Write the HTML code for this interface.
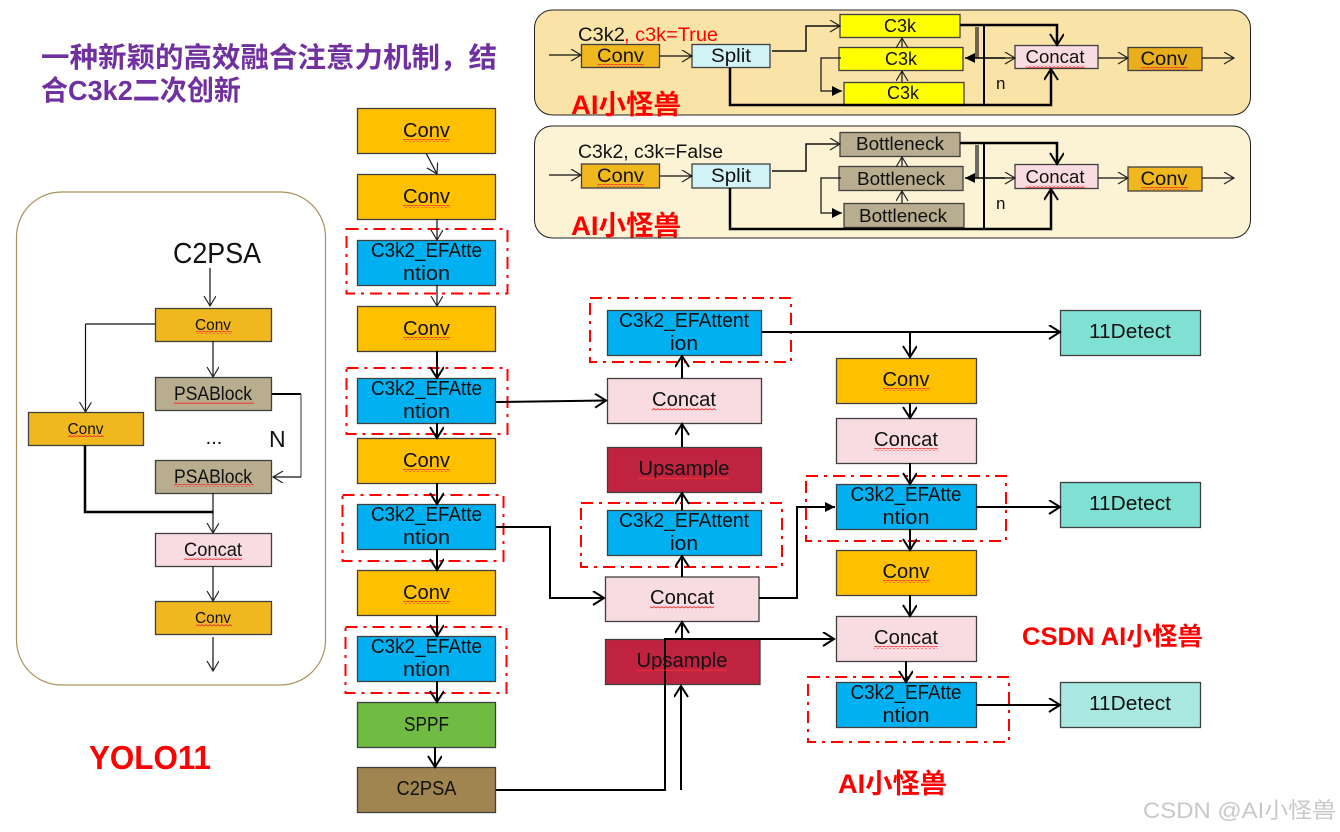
<!DOCTYPE html>
<html><head><meta charset="utf-8"><style>
html,body{margin:0;padding:0;background:#fff}
svg{display:block}
text{font-family:"Liberation Sans","Noto Sans CJK SC",sans-serif;fill:#111}
.m{text-anchor:middle;font-size:20px;transform:translateY(-1px)}
.s{text-anchor:middle;font-size:15.5px}
.p{text-anchor:middle;font-size:18px}
.t{text-anchor:middle;font-size:19px}
.r{fill:#f00;font-weight:bold}
.b{stroke:#404040;stroke-width:1.3}
.l{fill:none;stroke:#111;stroke-width:1.2}
.h{fill:none;stroke:#000;stroke-width:2}
.k{fill:none;stroke:#000;stroke-width:2.5}
.d{fill:none;stroke:#f00;stroke-width:2;stroke-dasharray:12 6 3 6}
</style></head><body>
<svg width="1340" height="832" viewBox="0 0 1340 832" xmlns="http://www.w3.org/2000/svg">
<defs>
<marker id="o" markerUnits="userSpaceOnUse" markerWidth="14" markerHeight="14" refX="11" refY="6" orient="auto"><path d="M1 0L11 6L1 12" fill="none" stroke="#222" stroke-width="1.2"/></marker>
<marker id="a" markerUnits="userSpaceOnUse" markerWidth="16" markerHeight="16" refX="12" refY="7" orient="auto"><path d="M1 0L12 7L1 14" fill="none" stroke="#000" stroke-width="2"/></marker>
<marker id="f" markerUnits="userSpaceOnUse" markerWidth="12" markerHeight="12" refX="10" refY="5" orient="auto"><path d="M0 0L10 5L0 10Z" fill="#000"/></marker>
<pattern id="w" width="4" height="3" patternUnits="userSpaceOnUse"><path d="M0 2L2 .7L4 2" fill="none" stroke="#e33" stroke-width=".9"/></pattern>
</defs>

<!-- title -->
<text x="41" y="67" font-size="28" font-weight="bold" style="fill:#7030A0" textLength="456" lengthAdjust="spacingAndGlyphs">一种新颖的高效融合注意力机制，结</text>
<text x="41" y="100" font-size="28" font-weight="bold" style="fill:#7030A0" textLength="200" lengthAdjust="spacingAndGlyphs">合C3k2二次创新</text>

<!-- top panels -->
<rect x="534.500" y="10" width="716" height="105" rx="18" fill="#F9E3A6" stroke="#222" stroke-width="1"/>
<rect x="534.500" y="126" width="716" height="112" rx="18" fill="#FCF2D4" stroke="#222" stroke-width="1"/>

<!-- panel 1 -->
<g class="b">
<rect x="581.500" y="44.500" width="78" height="23" fill="#F0B71E"/>
<rect x="692" y="44.500" width="78" height="23" fill="#D2F3F5"/>
<rect x="840" y="14.500" width="120" height="23" fill="#FFFF00"/>
<rect x="839" y="47.500" width="124" height="23" fill="#FFFF00"/>
<rect x="844" y="82.500" width="120" height="23" fill="#FFFF00"/>
<rect x="1015" y="45.500" width="83" height="23" fill="#F8DCE2"/>
<rect x="1128" y="47.500" width="74" height="23" fill="#E8AE1C"/>
</g>
<path class="l" marker-end="url(#o)" d="M549 55H581"/>
<path class="l" marker-end="url(#o)" d="M660 56H692"/>
<path class="l" style="stroke-width:1.5" marker-end="url(#o)" d="M772 51H806V26H840"/>
<path class="l" marker-end="url(#o)" d="M902 47V38"/>
<path class="l" marker-end="url(#o)" d="M902 82V71"/>
<path class="l" marker-end="url(#f)" d="M841 58H821V91H842"/>
<path class="k" marker-end="url(#a)" d="M960 25H1057V45"/>
<path class="h" d="M984 25V105"/>
<path class="l" d="M978 27V58"/>
<path class="l" d="M976 27V58"/>
<path class="h" marker-end="url(#f)" style="stroke-width:1.5" d="M1005 58H965"/>
<path class="l" marker-end="url(#o)" d="M975 58H1015"/>
<path class="k" marker-end="url(#a)" d="M730 68V105H1051V69"/>
<path class="l" marker-end="url(#o)" d="M1098 58H1128"/>
<path class="l" marker-end="url(#o)" d="M1202 58H1234"/>
<text x="578" y="41" font-size="19" textLength="47" lengthAdjust="spacingAndGlyphs">C3k2</text>
<text x="624" y="41" font-size="19" style="fill:#f00" textLength="94" lengthAdjust="spacingAndGlyphs">, c3k=True</text>
<text class="t" x="620.500" y="62" textLength="47" lengthAdjust="spacingAndGlyphs">Conv</text>
<text class="t" x="731" y="62" textLength="40" lengthAdjust="spacingAndGlyphs">Split</text>
<text class="p" x="900" y="32" textLength="32" lengthAdjust="spacingAndGlyphs">C3k</text>
<text class="p" x="901" y="65" textLength="32" lengthAdjust="spacingAndGlyphs">C3k</text>
<text class="p" x="903" y="99" textLength="32" lengthAdjust="spacingAndGlyphs">C3k</text>
<text class="p" x="1055" y="63" textLength="59" lengthAdjust="spacingAndGlyphs">Concat</text>
<text class="t" x="1164" y="65" textLength="47" lengthAdjust="spacingAndGlyphs">Conv</text>
<text x="996" y="89" font-size="17">n</text>
<rect x="597" y="64" width="47" height="3" fill="url(#w)"/>
<rect x="1026" y="65" width="59" height="3" fill="url(#w)"/>
<rect x="1141" y="67" width="47" height="3" fill="url(#w)"/>
<text class="r" x="571" y="114" font-size="27" textLength="110" lengthAdjust="spacingAndGlyphs">AI小怪兽</text>

<!-- panel 2 -->
<g class="b">
<rect x="581.500" y="164" width="78" height="24" fill="#F0B71E"/>
<rect x="692" y="164" width="78" height="24" fill="#D2F3F5"/>
<rect x="840" y="132.500" width="120" height="24" fill="#B8AD8E"/>
<rect x="839" y="166.500" width="124" height="24" fill="#B8AD8E"/>
<rect x="844" y="203.500" width="120" height="24" fill="#B8AD8E"/>
<rect x="1015" y="164.500" width="83" height="24" fill="#F8DCE2"/>
<rect x="1128" y="167" width="74" height="24" fill="#F0B71E"/>
</g>
<path class="l" marker-end="url(#o)" d="M549 175H581"/>
<path class="l" marker-end="url(#o)" d="M660 176H692"/>
<path class="l" style="stroke-width:1.5" marker-end="url(#o)" d="M772 171H806V144H840"/>
<path class="l" marker-end="url(#o)" d="M902 166V157"/>
<path class="l" marker-end="url(#o)" d="M902 203V191"/>
<path class="l" marker-end="url(#f)" d="M841 178H821V213H842"/>
<path class="k" marker-end="url(#a)" d="M960 143H1057V164"/>
<path class="h" d="M984 143V229"/>
<path class="l" d="M978 145V178"/>
<path class="l" d="M976 145V178"/>
<path class="h" marker-end="url(#f)" style="stroke-width:1.5" d="M1005 178H965"/>
<path class="l" marker-end="url(#o)" d="M975 178H1015"/>
<path class="k" marker-end="url(#a)" d="M730 188V229H1051V189"/>
<path class="l" marker-end="url(#o)" d="M1098 178H1128"/>
<path class="l" marker-end="url(#o)" d="M1202 178H1234"/>
<text x="578" y="158" font-size="19" textLength="145" lengthAdjust="spacingAndGlyphs">C3k2, c3k=False</text>
<text class="t" x="620.500" y="182" textLength="47" lengthAdjust="spacingAndGlyphs">Conv</text>
<text class="t" x="731" y="182" textLength="40" lengthAdjust="spacingAndGlyphs">Split</text>
<text class="p" x="900" y="150" textLength="88" lengthAdjust="spacingAndGlyphs">Bottleneck</text>
<text class="p" x="901" y="185" textLength="88" lengthAdjust="spacingAndGlyphs">Bottleneck</text>
<text class="p" x="903" y="222" textLength="88" lengthAdjust="spacingAndGlyphs">Bottleneck</text>
<text class="p" x="1055" y="183" textLength="59" lengthAdjust="spacingAndGlyphs">Concat</text>
<text class="t" x="1164" y="185" textLength="47" lengthAdjust="spacingAndGlyphs">Conv</text>
<text x="996" y="209" font-size="17">n</text>
<rect x="597" y="184" width="47" height="3" fill="url(#w)"/>
<rect x="1026" y="185" width="59" height="3" fill="url(#w)"/>
<rect x="1141" y="187" width="47" height="3" fill="url(#w)"/>
<text class="r" x="571" y="235" font-size="27" textLength="110" lengthAdjust="spacingAndGlyphs">AI小怪兽</text>

<!-- left panel -->
<rect x="16.500" y="192" width="309" height="493" rx="45" fill="#fff" stroke="#A8925A" stroke-width="1.200"/>
<text x="217" y="263" font-size="29" text-anchor="middle" textLength="88" lengthAdjust="spacingAndGlyphs">C2PSA</text>
<g class="b">
<rect x="155.500" y="308.500" width="116" height="33" fill="#F0B71E"/>
<rect x="155.500" y="377.500" width="116" height="33" fill="#B8AD8E"/>
<rect x="28.500" y="412.500" width="115" height="33" fill="#F0B71E"/>
<rect x="155.500" y="460.500" width="116" height="33" fill="#B8AD8E"/>
<rect x="155.500" y="533.500" width="116" height="33" fill="#F8DCE2"/>
<rect x="155.500" y="601.500" width="116" height="33" fill="#F0B71E"/>
</g>
<path class="l" marker-end="url(#o)" d="M210 268V306"/>
<path class="l" d="M155 324H85.500"/>
<path class="l" marker-end="url(#o)" d="M85.500 324V412"/>
<path class="l" marker-end="url(#o)" d="M213 341V377"/>
<path class="h" d="M272 394H301"/>
<path fill="none" stroke="#777" stroke-width="1.500" d="M301 394V477"/>
<path class="l" marker-end="url(#o)" d="M301 477H273"/>
<path class="k" d="M85 445V512H213"/>
<path class="l" marker-end="url(#o)" d="M213 493V533"/>
<path class="l" marker-end="url(#o)" d="M213 566V601"/>
<path class="l" marker-end="url(#o)" d="M213 637V671"/>
<text class="s" x="213" y="330" textLength="36" lengthAdjust="spacingAndGlyphs">Conv</text>
<text class="s" x="85.500" y="434" textLength="36" lengthAdjust="spacingAndGlyphs">Conv</text>
<text class="t" x="213" y="400" textLength="78" lengthAdjust="spacingAndGlyphs">PSABlock</text>
<text class="t" x="213" y="483" textLength="78" lengthAdjust="spacingAndGlyphs">PSABlock</text>
<text class="t" x="213" y="556" textLength="58" lengthAdjust="spacingAndGlyphs">Concat</text>
<text class="s" x="213" y="623" textLength="36" lengthAdjust="spacingAndGlyphs">Conv</text>
<text x="214" y="444" font-size="20" text-anchor="middle">...</text>
<text x="269" y="447" font-size="23">N</text>
<rect x="196" y="331" width="36" height="3" fill="url(#w)"/>
<rect x="68" y="434" width="36" height="3" fill="url(#w)"/>
<rect x="174" y="401" width="80" height="3" fill="url(#w)"/>
<rect x="174" y="484" width="80" height="3" fill="url(#w)"/>
<rect x="184" y="557" width="58" height="3" fill="url(#w)"/>
<rect x="196" y="624" width="36" height="3" fill="url(#w)"/>
<text class="r" x="89" y="769" font-size="33" textLength="122" lengthAdjust="spacingAndGlyphs">YOLO11</text>

<!-- column 1 -->
<g class="b">
<rect x="357.500" y="108.500" width="138" height="45" fill="#FFC000"/>
<rect x="357.500" y="174.500" width="138" height="45" fill="#FFC000"/>
<rect x="357.500" y="240.500" width="138" height="45" fill="#00B0F0"/>
<rect x="357.500" y="306.500" width="138" height="45" fill="#FFC000"/>
<rect x="357.500" y="378.500" width="138" height="45" fill="#00B0F0"/>
<rect x="357.500" y="438.500" width="138" height="45" fill="#FFC000"/>
<rect x="357.500" y="504.500" width="138" height="45" fill="#00B0F0"/>
<rect x="357.500" y="570.500" width="138" height="45" fill="#FFC000"/>
<rect x="357.500" y="636.500" width="138" height="45" fill="#00B0F0"/>
<rect x="357.500" y="702.500" width="138" height="45" fill="#70BC42"/>
<rect x="357.500" y="767.500" width="138" height="45" fill="#A08550"/>
</g>
<rect class="d" x="346.500" y="229" width="161" height="64.500"/>
<rect class="d" x="346.500" y="368" width="161" height="66"/>
<rect class="d" x="342.500" y="495" width="161" height="66"/>
<rect class="d" x="345.500" y="627" width="161" height="66"/>
<path class="l" marker-end="url(#o)" d="M426 153L437 174"/>
<path class="l" marker-end="url(#o)" d="M437 219V240"/>
<path class="l" marker-end="url(#o)" d="M437 285V306"/>
<path class="h" marker-end="url(#a)" d="M437 351V378"/>
<path class="h" marker-end="url(#a)" d="M437 423V438"/>
<path class="h" marker-end="url(#a)" d="M437 483V504"/>
<path class="h" marker-end="url(#a)" d="M437 549V570"/>
<path class="h" marker-end="url(#a)" d="M437 615V636"/>
<path class="h" marker-end="url(#a)" d="M437 681V702"/>
<path class="h" marker-end="url(#a)" d="M435 747V767"/>
<text class="m" x="426.500" y="138" textLength="47" lengthAdjust="spacingAndGlyphs">Conv</text>
<text class="m" x="426.500" y="204" textLength="47" lengthAdjust="spacingAndGlyphs">Conv</text>
<text class="m" x="426.500" y="258" textLength="111" lengthAdjust="spacingAndGlyphs">C3k2_EFAtte</text><text class="m" x="426.500" y="281" textLength="47" lengthAdjust="spacingAndGlyphs">ntion</text>
<text class="m" x="426.500" y="336" textLength="47" lengthAdjust="spacingAndGlyphs">Conv</text>
<text class="m" x="426.500" y="396" textLength="111" lengthAdjust="spacingAndGlyphs">C3k2_EFAtte</text><text class="m" x="426.500" y="419" textLength="47" lengthAdjust="spacingAndGlyphs">ntion</text>
<text class="m" x="426.500" y="468" textLength="47" lengthAdjust="spacingAndGlyphs">Conv</text>
<text class="m" x="426.500" y="522" textLength="111" lengthAdjust="spacingAndGlyphs">C3k2_EFAtte</text><text class="m" x="426.500" y="545" textLength="47" lengthAdjust="spacingAndGlyphs">ntion</text>
<text class="m" x="426.500" y="600" textLength="47" lengthAdjust="spacingAndGlyphs">Conv</text>
<text class="m" x="426.500" y="654" textLength="111" lengthAdjust="spacingAndGlyphs">C3k2_EFAtte</text><text class="m" x="426.500" y="677" textLength="47" lengthAdjust="spacingAndGlyphs">ntion</text>
<text class="m" x="426.500" y="732" textLength="45" lengthAdjust="spacingAndGlyphs">SPPF</text>
<text class="m" x="426.500" y="796" textLength="60" lengthAdjust="spacingAndGlyphs">C2PSA</text>
<rect x="403" y="139" width="47" height="3" fill="url(#w)"/>
<rect x="403" y="205" width="47" height="3" fill="url(#w)"/>
<rect x="403" y="337" width="47" height="3" fill="url(#w)"/>
<rect x="403" y="469" width="47" height="3" fill="url(#w)"/>
<rect x="403" y="601" width="47" height="3" fill="url(#w)"/>

<!-- column 2 -->
<g class="b">
<rect x="607.500" y="310.500" width="154" height="45" fill="#00B0F0"/>
<rect x="607.500" y="378.500" width="154" height="45" fill="#F8DCE2"/>
<rect x="607.500" y="447.500" width="154" height="45" fill="#C0233F"/>
<rect x="607.500" y="510.500" width="154" height="45" fill="#00B0F0"/>
<rect x="605.500" y="577" width="153.500" height="44.500" fill="#F8DCE2"/>
<rect x="605.500" y="639.500" width="154.500" height="45" fill="#C0233F"/>
</g>
<rect class="d" x="590" y="298" width="201" height="64"/>
<rect class="d" x="581" y="503" width="201" height="64"/>
<path class="h" marker-end="url(#a)" d="M496 402L606 400.500"/>
<path class="h" marker-end="url(#a)" d="M496 527H550V598H604"/>
<path class="h" marker-end="url(#a)" d="M682 378V356"/>
<path class="h" marker-end="url(#a)" d="M682 447V424"/>
<path class="h" marker-end="url(#a)" d="M682 510V493"/>
<path class="h" marker-end="url(#a)" d="M682 577V556"/>
<path class="h" marker-end="url(#a)" d="M682 639V622"/>
<path class="h" marker-end="url(#a)" d="M681 790V686"/>
<path class="h" marker-end="url(#a)" d="M496 790H665V639H834"/>
<path class="h" marker-end="url(#f)" d="M759 598H797V507H835"/>
<text class="m" x="684" y="328" textLength="130" lengthAdjust="spacingAndGlyphs">C3k2_EFAttent</text><text class="m" x="684" y="351" textLength="28" lengthAdjust="spacingAndGlyphs">ion</text>
<text class="m" x="684" y="407" textLength="64" lengthAdjust="spacingAndGlyphs">Concat</text>
<text class="m" x="684" y="476" textLength="91" lengthAdjust="spacingAndGlyphs">Upsample</text>
<text class="m" x="684" y="528" textLength="130" lengthAdjust="spacingAndGlyphs">C3k2_EFAttent</text><text class="m" x="684" y="551" textLength="28" lengthAdjust="spacingAndGlyphs">ion</text>
<text class="m" x="682" y="605" textLength="64" lengthAdjust="spacingAndGlyphs">Concat</text>
<text class="m" x="682" y="668" textLength="91" lengthAdjust="spacingAndGlyphs">Upsample</text>
<rect x="652" y="408" width="64" height="3" fill="url(#w)"/>
<rect x="638" y="477" width="91" height="3" fill="url(#w)"/>
<rect x="650" y="606" width="64" height="3" fill="url(#w)"/>
<rect x="636" y="669" width="91" height="3" fill="url(#w)"/>

<!-- column 3 -->
<g class="b">
<rect x="836.500" y="358.500" width="140" height="45" fill="#FFC000"/>
<rect x="836.500" y="418.500" width="140" height="45" fill="#F8DCE2"/>
<rect x="836.500" y="484.500" width="140" height="45" fill="#00B0F0"/>
<rect x="836.500" y="550.500" width="140" height="45" fill="#FFC000"/>
<rect x="836.500" y="616.500" width="140" height="45" fill="#F8DCE2"/>
<rect x="836.500" y="682.500" width="140" height="45" fill="#00B0F0"/>
<rect x="1060.500" y="310.500" width="140" height="45" fill="#7FE0D4"/>
<rect x="1060.500" y="482.500" width="140" height="45" fill="#7FE0D4"/>
<rect x="1060.500" y="682.500" width="140" height="45" fill="#A8E8E0"/>
</g>
<rect class="d" x="806" y="476" width="200" height="65"/>
<rect class="d" x="808" y="677" width="201" height="65"/>
<path class="h" marker-end="url(#a)" d="M761 332H1060"/>
<path class="h" marker-end="url(#a)" d="M910 332V357"/>
<path class="h" marker-end="url(#a)" d="M910 403V418"/>
<path class="h" marker-end="url(#a)" d="M910 463V484"/>
<path class="h" marker-end="url(#a)" d="M910 529V550"/>
<path class="h" marker-end="url(#a)" d="M910 595V616"/>
<path class="h" marker-end="url(#a)" d="M906 661V682"/>
<path class="h" marker-end="url(#a)" d="M976 507H1060"/>
<path class="h" marker-end="url(#a)" d="M976 705H1060"/>
<text class="m" x="906" y="387" textLength="47" lengthAdjust="spacingAndGlyphs">Conv</text>
<text class="m" x="906" y="447" textLength="64" lengthAdjust="spacingAndGlyphs">Concat</text>
<text class="m" x="906" y="502" textLength="111" lengthAdjust="spacingAndGlyphs">C3k2_EFAtte</text><text class="m" x="906" y="525" textLength="47" lengthAdjust="spacingAndGlyphs">ntion</text>
<text class="m" x="906" y="579" textLength="47" lengthAdjust="spacingAndGlyphs">Conv</text>
<text class="m" x="906" y="645" textLength="64" lengthAdjust="spacingAndGlyphs">Concat</text>
<text class="m" x="906" y="700" textLength="111" lengthAdjust="spacingAndGlyphs">C3k2_EFAtte</text><text class="m" x="906" y="723" textLength="47" lengthAdjust="spacingAndGlyphs">ntion</text>
<text class="m" x="1130" y="339" textLength="82" lengthAdjust="spacingAndGlyphs">11Detect</text>
<text class="m" x="1130" y="511" textLength="82" lengthAdjust="spacingAndGlyphs">11Detect</text>
<text class="m" x="1130" y="711" textLength="82" lengthAdjust="spacingAndGlyphs">11Detect</text>
<rect x="883" y="388" width="47" height="3" fill="url(#w)"/>
<rect x="874" y="448" width="64" height="3" fill="url(#w)"/>
<rect x="883" y="580" width="47" height="3" fill="url(#w)"/>
<rect x="874" y="646" width="64" height="3" fill="url(#w)"/>

<text class="r" x="1022" y="645" font-size="25" textLength="181" lengthAdjust="spacingAndGlyphs">CSDN AI小怪兽</text>
<text class="r" x="838" y="793" font-size="27" textLength="109" lengthAdjust="spacingAndGlyphs">AI小怪兽</text>
<text x="1143" y="818" font-size="22" style="fill:#c8c8c8" textLength="193" lengthAdjust="spacingAndGlyphs">CSDN @AI小怪兽</text>
</svg>
</body></html>
